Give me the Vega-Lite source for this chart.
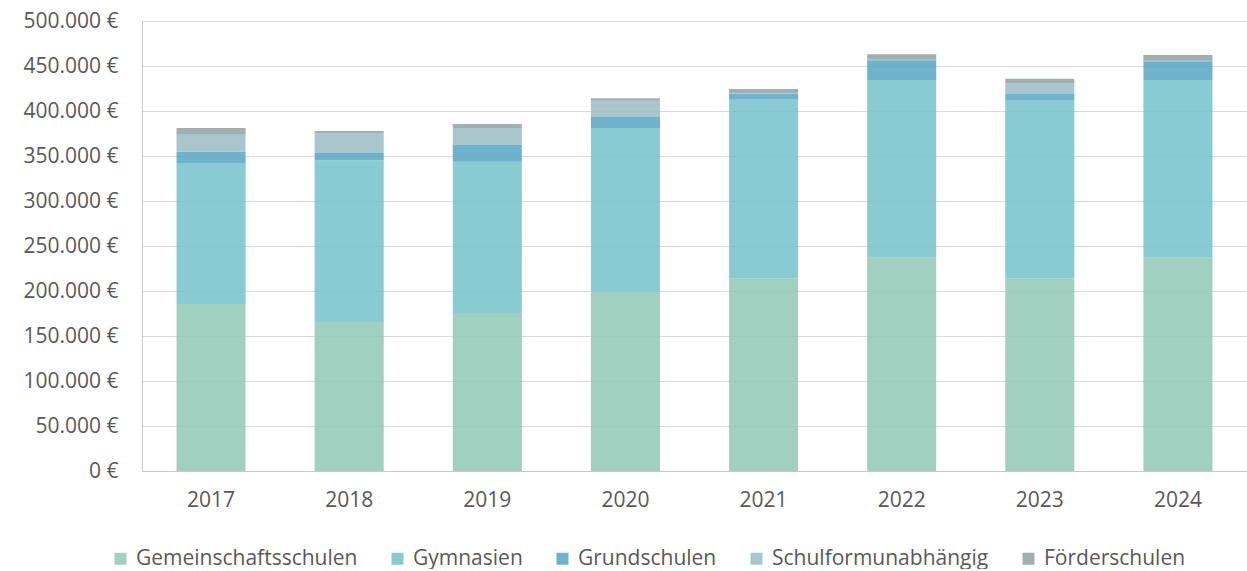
{
  "$schema": "https://vega.github.io/schema/vega-lite/v6.json",
  "width": 1105,
  "height": 450,
  "padding": {"left": 22, "top": 10, "right": 0, "bottom": 0},
  "autosize": {"type": "pad"},
  "background": "white",
  "config": {
    "locale": {"number": {"decimal": ",", "thousands": ".", "grouping": [3], "currency": ["", " €"]}},
    "font": "Open Sans",
    "view": {"stroke": null},
    "axis": {"labelFont": "Open Sans", "labelFontSize": 21, "labelColor": "#595959", "ticks": false, "title": null}
  },
  "data": {
    "values": [
      {"Jahr": "2017", "Schulart": "Gemeinschaftsschulen", "Betrag": 185600},
      {"Jahr": "2017", "Schulart": "Gymnasien", "Betrag": 156600},
      {"Jahr": "2017", "Schulart": "Grundschulen", "Betrag": 12600},
      {"Jahr": "2017", "Schulart": "Schulformunabhängig", "Betrag": 19600},
      {"Jahr": "2017", "Schulart": "Förderschulen", "Betrag": 6700},
      {"Jahr": "2018", "Schulart": "Gemeinschaftsschulen", "Betrag": 165600},
      {"Jahr": "2018", "Schulart": "Gymnasien", "Betrag": 179600},
      {"Jahr": "2018", "Schulart": "Grundschulen", "Betrag": 8100},
      {"Jahr": "2018", "Schulart": "Schulformunabhängig", "Betrag": 21900},
      {"Jahr": "2018", "Schulart": "Förderschulen", "Betrag": 2600},
      {"Jahr": "2019", "Schulart": "Gemeinschaftsschulen", "Betrag": 175600},
      {"Jahr": "2019", "Schulart": "Gymnasien", "Betrag": 168100},
      {"Jahr": "2019", "Schulart": "Grundschulen", "Betrag": 18500},
      {"Jahr": "2019", "Schulart": "Schulformunabhängig", "Betrag": 18900},
      {"Jahr": "2019", "Schulart": "Förderschulen", "Betrag": 4500},
      {"Jahr": "2020", "Schulart": "Gemeinschaftsschulen", "Betrag": 199200},
      {"Jahr": "2020", "Schulart": "Gymnasien", "Betrag": 181900},
      {"Jahr": "2020", "Schulart": "Grundschulen", "Betrag": 12200},
      {"Jahr": "2020", "Schulart": "Schulformunabhängig", "Betrag": 18100},
      {"Jahr": "2020", "Schulart": "Förderschulen", "Betrag": 2700},
      {"Jahr": "2021", "Schulart": "Gemeinschaftsschulen", "Betrag": 214100},
      {"Jahr": "2021", "Schulart": "Gymnasien", "Betrag": 199200},
      {"Jahr": "2021", "Schulart": "Grundschulen", "Betrag": 6000},
      {"Jahr": "2021", "Schulart": "Schulformunabhängig", "Betrag": 700},
      {"Jahr": "2021", "Schulart": "Förderschulen", "Betrag": 4400},
      {"Jahr": "2022", "Schulart": "Gemeinschaftsschulen", "Betrag": 237400},
      {"Jahr": "2022", "Schulart": "Gymnasien", "Betrag": 197000},
      {"Jahr": "2022", "Schulart": "Grundschulen", "Betrag": 22000},
      {"Jahr": "2022", "Schulart": "Schulformunabhängig", "Betrag": 600},
      {"Jahr": "2022", "Schulart": "Förderschulen", "Betrag": 6000},
      {"Jahr": "2023", "Schulart": "Gemeinschaftsschulen", "Betrag": 214100},
      {"Jahr": "2023", "Schulart": "Gymnasien", "Betrag": 198100},
      {"Jahr": "2023", "Schulart": "Grundschulen", "Betrag": 6700},
      {"Jahr": "2023", "Schulart": "Schulformunabhängig", "Betrag": 11900},
      {"Jahr": "2023", "Schulart": "Förderschulen", "Betrag": 5100},
      {"Jahr": "2024", "Schulart": "Gemeinschaftsschulen", "Betrag": 237400},
      {"Jahr": "2024", "Schulart": "Gymnasien", "Betrag": 197000},
      {"Jahr": "2024", "Schulart": "Grundschulen", "Betrag": 21000},
      {"Jahr": "2024", "Schulart": "Schulformunabhängig", "Betrag": 500},
      {"Jahr": "2024", "Schulart": "Förderschulen", "Betrag": 6300}
    ]
  },
  "transform": [
    {"calculate": "indexof(['Gemeinschaftsschulen', 'Gymnasien', 'Grundschulen', 'Schulformunabhängig', 'Förderschulen'], datum.Schulart)", "as": "Stapelfolge"}
  ],
  "mark": {"type": "bar", "opacity": 0.85},
  "encoding": {
    "x": {
      "field": "Jahr", "type": "ordinal",
      "scale": {"paddingInner": 0.5, "paddingOuter": 0.25},
      "axis": {"labelAngle": 0, "labelPadding": 18, "domainColor": "#c8c8c8", "domainWidth": 1}
    },
    "y": {
      "field": "Betrag", "type": "quantitative", "aggregate": "sum",
      "scale": {"domain": [0, 500000]},
      "axis": {"format": "$,.0f", "values": [0,50000,100000,150000,200000,250000,300000,350000,400000,450000,500000], "labelOverlap": false, "labelPadding": 24, "gridColor": "#d9d9d9", "domainColor": "#c8c8c8"}
    },
    "color": {
      "field": "Schulart", "type": "nominal",
      "sort": ["Gemeinschaftsschulen", "Gymnasien", "Grundschulen", "Schulformunabhängig", "Förderschulen"],
      "scale": {
        "domain": ["Gemeinschaftsschulen", "Gymnasien", "Grundschulen", "Schulformunabhängig", "Förderschulen"],
        "range": ["#8fc8b5", "#74c2cb", "#56a4c3", "#99bcc3", "#93a0a1"]
      },
      "legend": {
        "orient": "none", "legendX": -32, "legendY": 527, "direction": "horizontal", "title": null,
        "symbolType": "square", "symbolSize": 144, "symbolStrokeWidth": 0, "symbolOpacity": 0.85,
        "labelFont": "Open Sans", "labelFontSize": 21, "labelColor": "#595959", "labelLimit": 400,
        "columnPadding": 29, "labelOffset": 5
      }
    },
    "order": {"field": "Stapelfolge", "type": "quantitative", "sort": "ascending"}
  }
}
